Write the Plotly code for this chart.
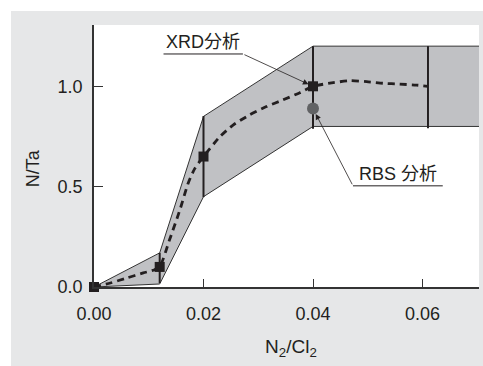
import plotly.graph_objects as go

# ---- data ----
band_x = [0.0, 0.012, 0.02, 0.04, 0.072]
band_upper = [0.0, 0.17, 0.85, 1.2, 1.2]
band_lower = [0.0, 0.015, 0.45, 0.8, 0.8]

bar_x = [0.012, 0.02, 0.04, 0.061]
bar_top = [0.17, 0.852, 1.2, 1.2]
bar_bottom = [0.02, 0.448, 0.788, 0.791]

curve_x = [0, 0.003, 0.006, 0.009, 0.011, 0.012, 0.0138, 0.0157, 0.0172, 0.0184,
           0.02, 0.023, 0.0254, 0.0284, 0.0315, 0.0345, 0.0376, 0.04, 0.0437,
           0.0467, 0.0498, 0.0528, 0.0558, 0.0589, 0.061]
curve_y = [0, 0.02, 0.045, 0.07, 0.085, 0.1, 0.235, 0.385, 0.517, 0.59,
           0.65, 0.749, 0.807, 0.857, 0.899, 0.932, 0.968, 1.0, 1.018,
           1.028, 1.023, 1.015, 1.011, 1.006, 1.0]

xrd_x = [0.0, 0.012, 0.02, 0.04]
xrd_y = [0.0, 0.1, 0.65, 1.0]

rbs_x = [0.04]
rbs_y = [0.889]

x_ticks = [0.0, 0.02, 0.04, 0.06]
x_ticklabels = ["0.00", "0.02", "0.04", "0.06"]
y_ticks = [0.0, 0.5, 1.0]
y_ticklabels = ["0.0", "0.5", "1.0"]

FONT = "Liberation Sans, Arial, Noto Sans CJK JP, sans-serif"
TXT = "#231f20"

fig = go.Figure()

# band
fig.add_trace(go.Scatter(
    x=band_x + band_x[::-1], y=band_upper + band_lower[::-1],
    fill="toself", fillcolor="#c0c1c4", mode="lines",
    line=dict(color="#333333", width=1), hoverinfo="skip", showlegend=False))

# vertical range bars
bx, by = [], []
for x, t, b in zip(bar_x, bar_top, bar_bottom):
    bx += [x, x, None]
    by += [t, b, None]
fig.add_trace(go.Scatter(x=bx, y=by, mode="lines",
                         line=dict(color="#231f20", width=2),
                         hoverinfo="skip", showlegend=False))

# dashed curve
fig.add_trace(go.Scatter(x=curve_x, y=curve_y, mode="lines",
                         line=dict(color="#231f20", width=2.8, dash="7px,5px",
                                   shape="spline", smoothing=0.6),
                         hoverinfo="skip", showlegend=False))

# XRD squares
fig.add_trace(go.Scatter(x=xrd_x, y=xrd_y, mode="markers",
                         marker=dict(symbol="square", size=10, color="#231f20"),
                         cliponaxis=False, showlegend=False))
# RBS circle
fig.add_trace(go.Scatter(x=rbs_x, y=rbs_y, mode="markers",
                         marker=dict(symbol="circle", size=12, color="#616264"),
                         cliponaxis=False, showlegend=False))

# annotation positions (data coords)
xrd_lbl_x0, xrd_lbl_x1, xrd_lbl_y = 0.0127, 0.0272, 1.161
rbs_lbl_x0, rbs_lbl_x1, rbs_lbl_y = 0.0473, 0.0637, 0.504

shapes = [
    dict(type="rect", xref="paper", yref="paper", x0=-0.4, x1=1.2, y0=1.0534, y1=1.3,
         fillcolor="white", line=dict(width=0), layer="below"),
    dict(type="rect", xref="paper", yref="paper", x0=-0.4, x1=-0.2156, y0=-0.5, y1=1.3,
         fillcolor="white", line=dict(width=0), layer="below"),
    dict(type="line", xref="x", yref="y", x0=xrd_lbl_x0, x1=xrd_lbl_x1,
         y0=xrd_lbl_y, y1=xrd_lbl_y, line=dict(color="#231f20", width=1)),
    dict(type="line", xref="x", yref="y", x0=rbs_lbl_x0, x1=rbs_lbl_x1,
         y0=rbs_lbl_y, y1=rbs_lbl_y, line=dict(color="#231f20", width=1)),
]

annotations = [
    dict(x=(xrd_lbl_x0 + xrd_lbl_x1) / 2, y=xrd_lbl_y, xref="x", yref="y",
         text="XRD分析", showarrow=False, yanchor="bottom", yshift=0,
         font=dict(family=FONT, size=18, color=TXT)),
    dict(x=xrd_x[3], y=xrd_y[3], xref="x", yref="y", ax=xrd_lbl_x1, ay=xrd_lbl_y,
         axref="x", ayref="y", text="", showarrow=True, arrowhead=2,
         arrowsize=1.4, arrowwidth=0.8, arrowcolor="#231f20", standoff=5),
    dict(x=(rbs_lbl_x0 + rbs_lbl_x1) / 2, y=rbs_lbl_y, xref="x", yref="y",
         text="RBS 分析", showarrow=False, yanchor="bottom", yshift=0,
         font=dict(family=FONT, size=18, color=TXT)),
    dict(x=rbs_x[0], y=rbs_y[0], xref="x", yref="y", ax=rbs_lbl_x0, ay=rbs_lbl_y,
         axref="x", ayref="y", text="", showarrow=True, arrowhead=2,
         arrowsize=1.4, arrowwidth=0.8, arrowcolor="#231f20", standoff=6),
    dict(x=0.5, y=-0.232, xref="paper", yref="paper", text="N<sub>2</sub>/Cl<sub>2</sub>",
         showarrow=False, yanchor="middle", xshift=4,
         font=dict(family=FONT, size=19, color=TXT)),
    dict(x=-0.158, y=0.454, xref="paper", yref="paper", text="N/Ta", textangle=-90,
         showarrow=False, xanchor="center", yanchor="middle",
         font=dict(family=FONT, size=18, color=TXT)),
]

fig.update_layout(
    width=483, height=366,
    margin=dict(l=94, r=4, t=25, b=79),
    paper_bgcolor="#e6e7e8", plot_bgcolor="white",
    shapes=shapes, annotations=annotations,
    font=dict(family=FONT, size=18, color=TXT),
    xaxis=dict(range=[0, 0.07032], tickvals=x_ticks, ticktext=x_ticklabels,
               ticks="inside", ticklen=8, tickwidth=1.2, tickcolor="#333333",
               showline=True, linecolor="#333333", linewidth=1.5,
               showgrid=False, zeroline=False, ticklabelstandoff=10,
               tickfont=dict(family=FONT, size=18, color=TXT)),
    yaxis=dict(range=[0, 1.3054], tickvals=y_ticks, ticktext=y_ticklabels,
               ticks="inside", ticklen=9, tickwidth=1.2, tickcolor="#333333",
               showline=True, linecolor="#333333", linewidth=1.5,
               showgrid=False, zeroline=False, ticklabelstandoff=6,
               tickfont=dict(family=FONT, size=18, color=TXT)),
)

fig.write_html("out.html", config={"displayModeBar": False},
               post_script="document.body.style.margin='0';document.body.style.padding='0';")
